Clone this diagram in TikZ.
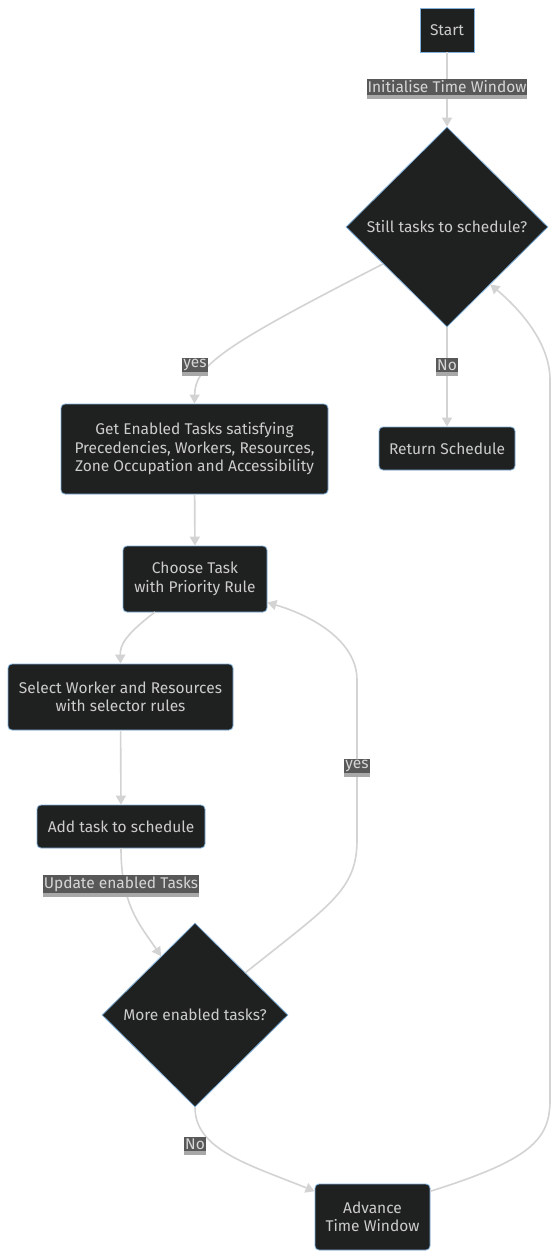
\documentclass[tikz,border=0pt]{standalone}
\usepackage{fontspec}
\setmainfont{Fira Sans}
\usetikzlibrary{shapes.geometric,arrows.meta}
\definecolor{nodefill}{HTML}{1F2020}
\definecolor{nodeline}{HTML}{81B1DB}
\definecolor{nodetext}{HTML}{CCCCCC}
\definecolor{edgeline}{HTML}{D3D3D3}
\definecolor{labelfill}{HTML}{585858}
\definecolor{labelstrip}{HTML}{A8A8A8}
\begin{document}
\begin{tikzpicture}[x=1pt,y=-1pt]
	\tikzstyle{box}=[draw=nodeline,fill=nodefill,text=nodetext,font=\fontsize{15.5}{18.5}\selectfont,align=center,rounded corners=4pt,line width=0.8pt,inner sep=0pt]
	\tikzstyle{choice}=[box,diamond,rounded corners=0pt]
	\tikzstyle{elabel}=[fill=labelfill,text=nodetext!80!white,font=\fontsize{15.5}{17}\selectfont,inner xsep=1pt,inner ysep=1.5pt,preaction={fill=labelstrip,transform canvas={yshift=-4pt}}]
	\tikzstyle{flow}=[draw=edgeline,line width=1.6pt,-{Triangle[width=10pt,length=9pt]}]
	\fill[white] (0,0) rectangle (557,1260);
	\useasboundingbox (0,0) rectangle (557,1260);
	\node[box,rounded corners=0pt,minimum width=54pt,minimum height=44pt](start) at (447,30) {Start};
	\node[choice,minimum width=202pt,minimum height=200pt](still) at (447,227) {Still tasks to schedule?};
	\node[box,minimum width=136pt,minimum height=43pt](ret) at (447,448.5) {Return Schedule};
	\node[box,minimum width=267pt,minimum height=90pt](get) at (194.5,449) {Get Enabled Tasks satisfying\\Precedencies, Workers, Resources,\\Zone Occupation and Accessibility};
	\node[box,minimum width=144pt,minimum height=66pt](choose) at (195,579) {Choose Task\\with Priority Rule};
	\node[box,minimum width=225pt,minimum height=66pt](select) at (120.5,697) {Select Worker and Resources\\with selector rules};
	\node[box,minimum width=168pt,minimum height=43pt](add) at (121,826.5) {Add task to schedule};
	\node[choice,minimum width=186pt,minimum height=184pt](more) at (195,1015) {More enabled tasks?};
	\node[box,minimum width=115pt,minimum height=66pt](adv) at (372.5,1217) {Advance\\Time Window};
	\coordinate(c1) at (155,612);
	\draw[flow](start) -- (still);
	\draw[flow](still.210) .. controls (225,345) and (195,365) .. (get.north);
	\draw[flow](still) -- (ret);
	\draw[flow](get) -- (choose);
	\draw[flow](c1) .. controls (125,635) and (120,645) .. (select.north);
	\draw[flow](select) -- (add);
	\draw[flow](add.south) .. controls (121,905) and (140,925) .. (more.120);
	\draw[flow](more.40) .. controls (330,905) and (357,890) .. (357,840) -- (357,680) .. controls (357,640) and (310,615) .. (choose.-18);
	\draw[flow](more.south) .. controls (195,1150) and (250,1165) .. (adv.156);
	\draw[flow](adv.24) .. controls (530,1160) and (550,1140) .. (550,1100) -- (550,380) .. controls (550,340) and (515,305) .. (still.-53);
	\node[elabel](l1) at (447,87) {Initialise Time Window};
	\node[elabel](l2) at (195,365) {yes};
	\node[elabel](l3) at (447,365) {No};
	\node[elabel](l4) at (121,884) {Update enabled Tasks};
	\node[elabel](l5) at (357,766) {yes};
	\node[elabel](l6) at (195,1144) {No};
\end{tikzpicture}
\end{document}
